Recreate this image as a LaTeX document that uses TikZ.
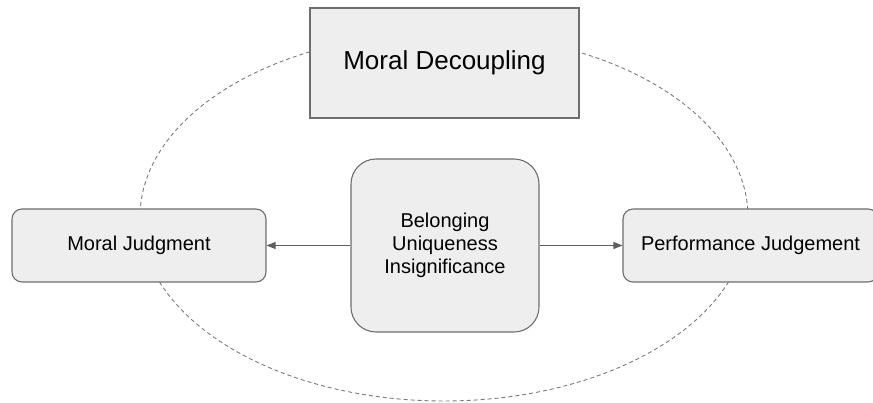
\documentclass[tikz,border=0pt]{standalone}
\usepackage{fontspec}
\setmainfont{Liberation Sans}
\usetikzlibrary{arrows.meta,shapes.geometric}
\definecolor{boxfill}{HTML}{EEEEEE}
\definecolor{boxline}{HTML}{6E6E6E}
\definecolor{arrowcol}{HTML}{5F5F5F}
\definecolor{ringcol}{HTML}{7A7A7A}
\tikzset{
  box/.style={draw=boxline, fill=boxfill, line width=1.1pt, inner sep=0pt, align=center, text=black},
  smallbox/.style={box, minimum height=73pt, rounded corners=10pt, font=\fontsize{20}{23}\selectfont},
  link/.style={draw=arrowcol, line width=1pt, -{Triangle[length=9pt,width=7pt]}},
  ring/.style={draw=ringcol, line width=0.9pt, dash pattern=on 4pt off 3pt, ellipse, inner sep=0pt}
}
\begin{document}
\begin{tikzpicture}[x=1pt,y=-1pt]
\useasboundingbox (0,0) rectangle (873,403);
\clip (0,0) rectangle (873,403);
\node[ring, minimum width=608pt, minimum height=368pt] (ring) at (444,217) {};
\node[box, minimum width=269pt, minimum height=110pt, font=\fontsize{26}{30}\selectfont] (decoup) at (444.5,63) {Moral Decoupling};
\node[smallbox, minimum width=254pt] (moral) at (139,245.5) {Moral Judgment};
\node[box, minimum width=188pt, minimum height=173pt, rounded corners=25pt, font=\fontsize{20}{23}\selectfont] (core) at (445,245.5) {Belonging\\Uniqueness\\Insignificance};
\node[smallbox, minimum width=255pt] (perf) at (750.5,245.5) {Performance Judgement};
\draw[link] (core.west) -- (moral.east);
\draw[link] (core.east) -- (perf.west);
\end{tikzpicture}
\end{document}
